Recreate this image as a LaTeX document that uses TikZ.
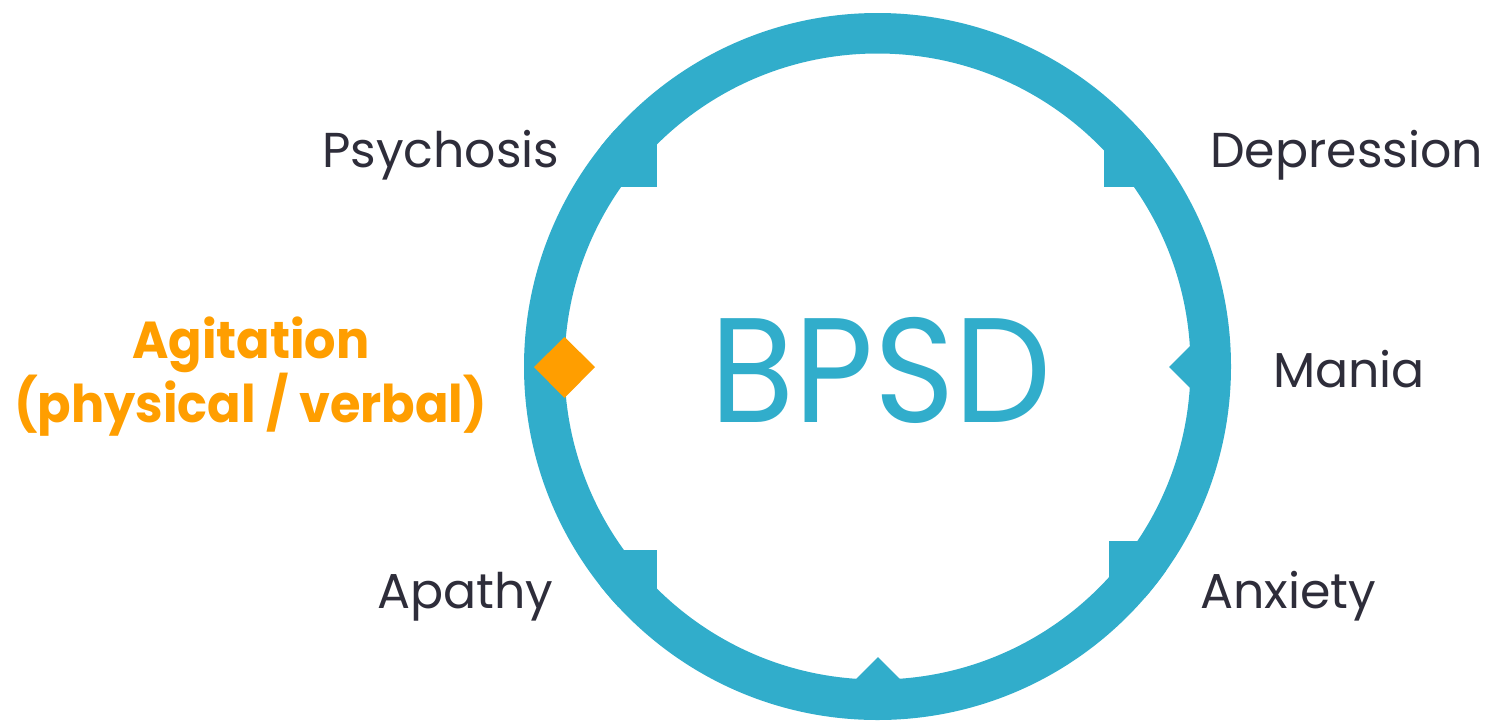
\documentclass[tikz,border=0pt]{standalone}
\usepackage{fontspec}
\setmainfont{Poppins}
\definecolor{ringteal}{HTML}{31ADCB}
\definecolor{agiorange}{HTML}{FF9E00}
\definecolor{darktext}{HTML}{2E2D3A}
\tikzset{
  lbl/.style={inner sep=0pt, text=darktext, font=\fontsize{49}{56}\selectfont},
  agi/.style={inner sep=0pt, text=agiorange, xscale=0.95, font=\bfseries\fontsize{52}{60}\selectfont},
  tealfill/.style={fill=ringteal, draw=none},
}
\begin{document}
\begin{tikzpicture}[x=1pt,y=-1pt]
\useasboundingbox (0,0) rectangle (1491,721);
\coordinate (c) at (877.5,366.5);
% ring
\draw[ringteal, line width=40.5pt] (c) circle[radius=333.25pt];
% notches, kept within the ring's outer edge
\begin{scope}
\clip (c) circle[radius=353.5pt];
\fill[tealfill] (600,130) rectangle (657,187);
\fill[tealfill] (1104,130) rectangle (1161,187);
\fill[tealfill] (600,550) rectangle (657,607);
\fill[tealfill] (1109,541) rectangle (1166,598);
\fill[tealfill] (1169,367) -- (1199,337) -- (1229,367) -- (1199,397) -- cycle;
\fill[tealfill] (878,657) -- (908,687) -- (878,717) -- (848,687) -- cycle;
\end{scope}
\fill[agiorange] (534,367) -- (564.5,337) -- (595,367) -- (564.5,398) -- cycle;
% texts
\node[inner sep=0pt, text=ringteal, xscale=0.92, font=\fontsize{149}{160}\selectfont, anchor=base] (bpsd) at (881,422) {BPSD};
\node[lbl, anchor=base west] (psy) at (322,167) {Psychosis};
\node[lbl, anchor=base west] (dep) at (1210,167) {Depression};
\node[lbl, anchor=base west] (man) at (1273,387) {Mania};
\node[lbl, anchor=base west] (apa) at (377,608) {Apathy};
\node[lbl, anchor=base west] (anx) at (1200,608) {Anxiety};
\node[agi, anchor=base] (agi1) at (251,358) {Agitation};
\node[agi, anchor=base] (agi2) at (250.5,422) {(physical / verbal)};
\end{tikzpicture}
\end{document}
